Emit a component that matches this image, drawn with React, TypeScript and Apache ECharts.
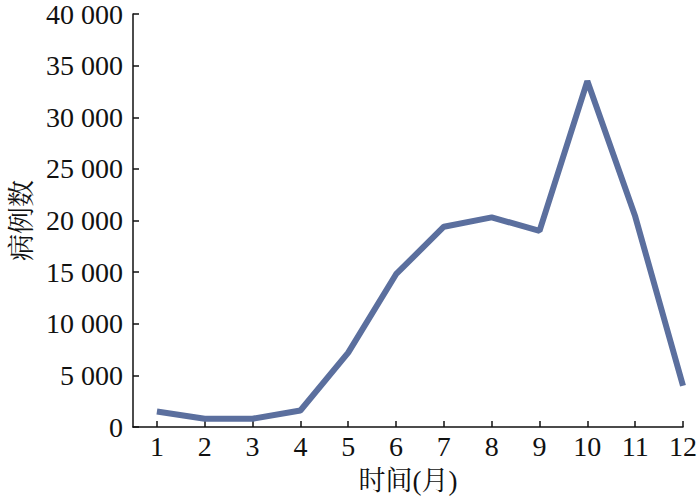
import React, { useEffect, useRef } from "react";
import * as echarts from "echarts";

const months = [1, 2, 3, 4, 5, 6, 7, 8, 9, 10, 11, 12];
const cases = [1500, 800, 800, 1600, 7200, 14800, 19400, 20300, 19000, 33500, 20400, 4000];
const yTicks = [0, 5000, 10000, 15000, 20000, 25000, 30000, 35000, 40000];

const FONT = "'Liberation Serif', 'Noto Serif CJK SC', 'Noto Sans CJK SC', serif";

const fmt = (v: number) => String(v).replace(/\B(?=(\d{3})+(?!\d))/g, " ");

export default function App() {
  const ref = useRef<HTMLDivElement>(null);
  useEffect(() => {
    if (!ref.current) return;
    const chart = echarts.init(ref.current, undefined, { renderer: "svg" });
    chart.setOption({
      animation: false,
      backgroundColor: "#ffffff",
      grid: { left: 133, right: 13, top: 10, bottom: 73, containLabel: false },
      xAxis: {
        type: "value",
        min: 0.5,
        max: 12,
        name: "时间(月)",
        nameLocation: "middle",
        nameGap: 40,
        nameTextStyle: { fontFamily: FONT, fontSize: 27, color: "#111" },
        axisLine: { show: true, lineStyle: { color: "#111", width: 1.5 } },
        axisTick: { show: true, inside: true, length: 6, lineStyle: { color: "#111", width: 1.5 }, customValues: months },
        axisLabel: { fontFamily: FONT, fontSize: 28, color: "#111", margin: 5, customValues: months },
        splitLine: { show: false },
      },
      yAxis: {
        type: "value",
        min: 0,
        max: 40000,
        interval: 5000,
        name: "病例数",
        nameLocation: "middle",
        nameRotate: 90,
        nameGap: 94,
        nameTextStyle: { fontFamily: FONT, fontSize: 27, color: "#111" },
        axisLine: { show: true, lineStyle: { color: "#111", width: 1.5 } },
        axisTick: { show: true, inside: true, length: 6, lineStyle: { color: "#111", width: 1.5 }, customValues: yTicks },
        axisLabel: { fontFamily: FONT, fontSize: 28, color: "#111", margin: 10, formatter: (v: number) => fmt(v) },
        splitLine: { show: false },
      },
      series: [
        {
          type: "line",
          data: months.map((m, i) => [m, cases[i]]),
          symbol: "none",
          lineStyle: { color: "#5b6f9e", width: 6 },
        },
      ],
    });
    return () => chart.dispose();
  }, []);
  return <div ref={ref} style={{ width: 700, height: 500, position: "absolute", left: 0, top: 0 }} />;
}
